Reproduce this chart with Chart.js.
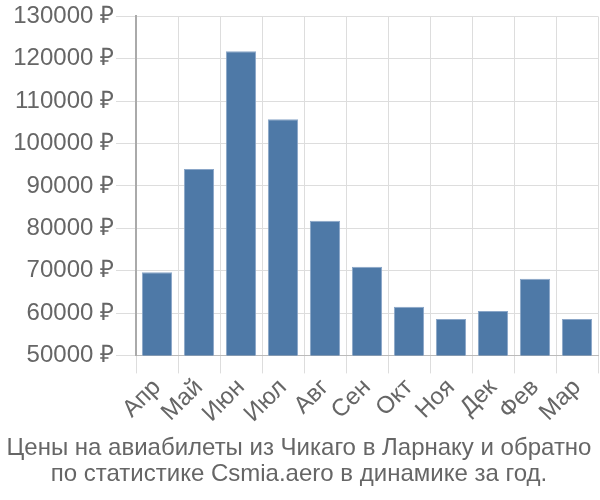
<!DOCTYPE html>
<html lang="ru">
<head>
    <meta charset="UTF-8">
    <title>Цены на авиабилеты</title>
    <script src="https://cdn.jsdelivr.net/npm/chart.js"></script>
    <style>
        html, body { margin: 0; padding: 0; background: #fff; }
        #wrap { width: 600px; height: 500px; }
    </style>
</head>
<body>
    <div id="wrap"><canvas id="mychart"></canvas></div>
    <script>
        const months = ['Апр', 'Май', 'Июн', 'Июл', 'Авг', 'Сен', 'Окт', 'Ноя', 'Дек', 'Фев', 'Мар'];
        const prices = [69600, 94000, 121800, 105700, 81800, 70900, 61500, 58600, 60500, 68100, 58600];
        const yMin = 50000;
        const yMax = 130000;
        const yStep = 10000;
        const titleLines = ['Цены на авиабилеты из Чикаго в Ларнаку и обратно', 'по статистике Csmia.aero в динамике за год.'];

        const font = "'Liberation Sans', Arial, sans-serif";

        const chart = new Chart(document.querySelector('#mychart'), {
            type: 'bar',
            data: {
                labels: months,
                datasets: [{
                    data: prices,
                    backgroundColor: '#4e79a7',
                    borderColor: '#8aa6c8',
                    borderWidth: 1,
                    barPercentage: 0.72,
                    categoryPercentage: 1
                }]
            },
            options: {
                responsive: true,
                maintainAspectRatio: false,
                animation: false,
                layout: { padding: { top: 2, right: 2, left: 0, bottom: 0 } },
                plugins: {
                    legend: { display: false },
                    tooltip: { enabled: false },
                    title: {
                        display: true,
                        position: 'bottom',
                        text: titleLines,
                        color: '#666',
                        font: { family: font, size: 24, weight: 'normal', lineHeight: 1.1 },
                        padding: { top: 7, bottom: 12 }
                    }
                },
                scales: {
                    x: {
                        grid: { color: '#ddd', tickLength: 18, offset: true },
                        border: { color: '#bbb' },
                        ticks: {
                            color: '#666',
                            font: { family: font, size: 24 },
                            autoSkip: false,
                            minRotation: 45,
                            maxRotation: 45,
                            padding: 0
                        }
                    },
                    y: {
                        min: yMin,
                        max: yMax,
                        afterFit: scale => { scale.width = 136; },
                        grid: { color: '#ddd', tickLength: 20 },
                        border: { color: '#aaa', width: 2 },
                        ticks: {
                            stepSize: yStep,
                            color: '#666',
                            font: { family: font, size: 24 },
                            padding: 2,
                            callback: v => v + ' ₽'
                        }
                    }
                }
            }
        });
    </script>
</body>
</html>
